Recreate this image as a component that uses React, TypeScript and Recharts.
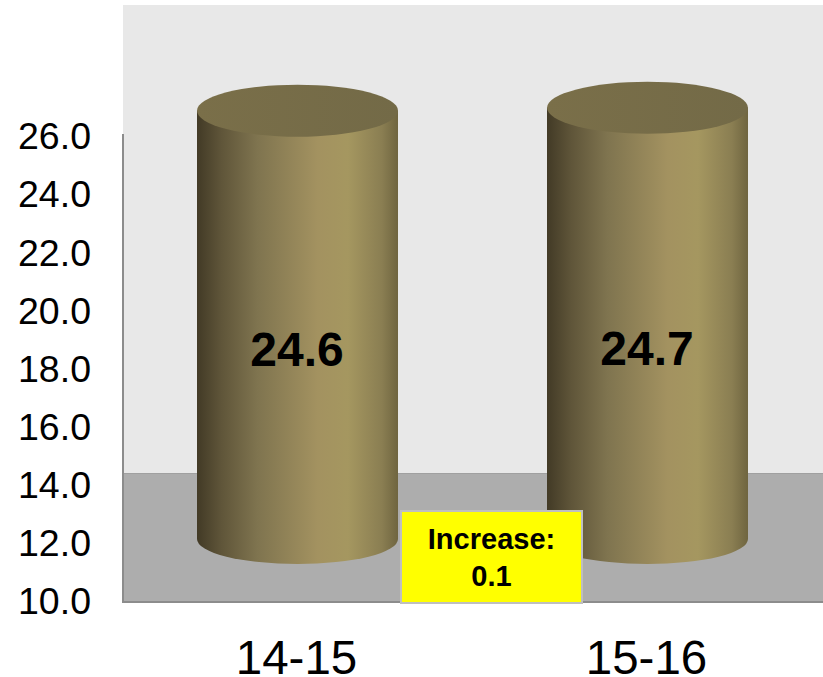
import React from 'react';
import { BarChart, Bar, XAxis, YAxis, LabelList, Customized } from 'recharts';

const categories = ['14-15', '15-16'];
const values = [24.6, 24.7];
const yTicks = [10, 12, 14, 16, 18, 20, 22, 24, 26];
const data = categories.map((name, i) => ({ name, value: values[i] }));

const FONT = '"Liberation Sans", Arial, sans-serif';
const DEPTH_SHIFT = 62;
const TOP_EXTRA = 4;
const RY = 25;

function Backdrop() {
  return (
    <g>
      <rect x={123} y={5} width={700} height={468} fill="#e8e8e8" />
      <rect x={123} y={473} width={700} height={129} fill="#adadad" />
      <line x1={123} y1={473.5} x2={823} y2={473.5} stroke="#a0a0a0" strokeWidth={1} />
      <line x1={123} y1={134} x2={123} y2={603} stroke="#8c8c8c" strokeWidth={2} />
      <line x1={122} y1={602} x2={823} y2={602} stroke="#8c8c8c" strokeWidth={2} />
    </g>
  );
}

function Cylinder(props: any) {
  const { x: bx, y, width, height } = props;
  const x = bx - 1;
  const top = y - DEPTH_SHIFT - TOP_EXTRA;
  const bottom = y + height - DEPTH_SHIFT;
  const rx = width / 2;
  return (
    <g>
      <path
        d={`M${x},${top} L${x},${bottom} A${rx},${RY} 0 0 0 ${x + width},${bottom} L${x + width},${top} Z`}
        fill="url(#cylSide)"
      />
      <ellipse cx={x + rx} cy={top} rx={rx} ry={RY + 1} fill="url(#cylTop)" />
    </g>
  );
}

function ValueLabel(props: any) {
  const { x, y, width, height, value } = props;
  return (
    <text
      x={x + width / 2 - 1.5}
      y={y + height / 2 - 39}
      textAnchor="middle"
      dominantBaseline="central"
      fontFamily={FONT}
      fontWeight={700}
      fontSize={48}
      fill="#000"
    >
      {Number(value).toFixed(1)}
    </text>
  );
}

export default function App() {
  return (
    <div style={{ position: 'absolute', left: 0, top: 0, width: 823, height: 677, background: '#fff' }}>
      <BarChart
        width={823}
        height={677}
        data={data}
        margin={{ top: 136, right: 0, bottom: 0, left: 0 }}
        barCategoryGap={0}
      >
        <defs>
          <linearGradient id="cylSide" x1="0" y1="0" x2="1" y2="0">
            <stop offset="0" stopColor="#423a26" />
            <stop offset="0.12" stopColor="#5f5539" />
            <stop offset="0.3" stopColor="#7f744f" />
            <stop offset="0.6" stopColor="#a39260" />
            <stop offset="0.75" stopColor="#a59760" />
            <stop offset="0.92" stopColor="#8a7e52" />
            <stop offset="1" stopColor="#6f6540" />
          </linearGradient>
          <linearGradient id="cylTop" x1="0" y1="0" x2="1" y2="0">
            <stop offset="0" stopColor="#7a6f49" />
            <stop offset="1" stopColor="#736a47" />
          </linearGradient>
        </defs>
        <Customized component={Backdrop} />
        <XAxis
          dataKey="name"
          height={76}
          axisLine={false}
          tickLine={false}
          tickMargin={33}
          tick={{ fontFamily: FONT, fontSize: 47.5, fill: '#000', dx: -1.5 }}
        />
        <YAxis
          domain={[10, 26]}
          ticks={yTicks}
          width={123}
          interval={0}
          axisLine={false}
          tickLine={false}
          tickMargin={26}
          tickFormatter={(v: number) => v.toFixed(1)}
          tick={{ fontFamily: FONT, fontSize: 37.5, fill: '#000' }}
        />
        <Bar dataKey="value" barSize={201} isAnimationActive={false} shape={<Cylinder />}>
          <LabelList dataKey="value" content={<ValueLabel />} />
        </Bar>
      </BarChart>
      <div
        style={{
          position: 'absolute',
          left: 400,
          top: 510,
          width: 183,
          height: 94,
          boxSizing: 'border-box',
          background: '#ffff00',
          border: '2px solid #bfbfbf',
          fontFamily: FONT,
          fontWeight: 700,
          fontSize: 29,
          lineHeight: '37px',
          textAlign: 'center',
          paddingTop: 9,
          color: '#000',
        }}
      >
        Increase:
        <br />
        0.1
      </div>
    </div>
  );
}
